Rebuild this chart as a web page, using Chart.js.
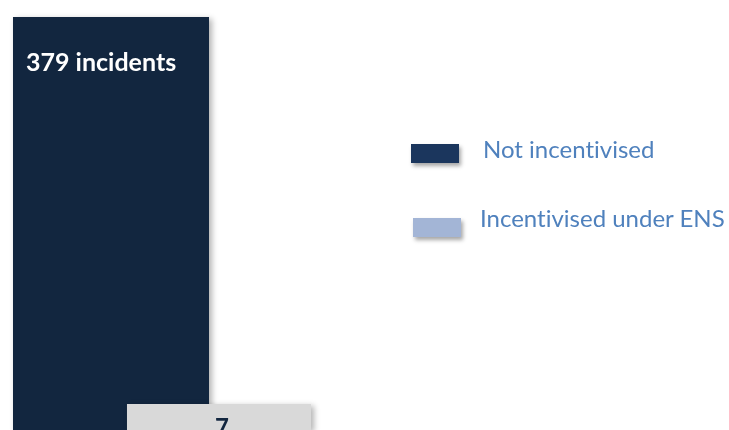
<!DOCTYPE html>
<html>
  <head>
    <title>Incidents</title>
    <script src="https://cdn.jsdelivr.net/npm/chart.js@4"></script>
    <style>
      html, body { margin: 0; padding: 0; background: #fff; }
      #wrap { position: relative; width: 729px; height: 430px; overflow: hidden; }
      .key { position: absolute; font-family: Lato, "Open Sans", sans-serif; font-size: 24px; color: #4f81bd; white-space: nowrap; font-variant-ligatures: none; }
      .swatch { position: absolute; width: 48px; height: 19px; box-shadow: 2px 3px 4px rgba(0,0,0,0.35); }
    </style>
  </head>
  <body>
    <div id="wrap">
      <canvas id="canvas" width="729" height="430"></canvas>
      <div class="swatch" style="left:411px;top:144px;background:#1b365d"></div>
      <div class="key" style="left:483px;top:134px">Not incentivised</div>
      <div class="swatch" style="left:413px;top:218px;background:#a3b5d6"></div>
      <div class="key" style="left:480px;top:203px">Incentivised under ENS</div>
    </div>
    <script>
      const categories = ['Not incentivised', 'Incentivised under ENS'];
      const notIncentivised = [379, null];
      const incentivised = [null, 7];

      // soft drop shadow behind the bars
      const shadowPlugin = {
        id: 'barShadow',
        beforeDatasetsDraw(chart) {
          const ctx = chart.ctx;
          ctx.save();
          ctx.shadowColor = 'rgba(0,0,0,0.3)';
          ctx.shadowBlur = 6;
          ctx.shadowOffsetX = 3;
          ctx.shadowOffsetY = 2;
        },
        afterDatasetsDraw(chart) {
          chart.ctx.restore();
        }
      };

      // value labels inside the bars
      const labelPlugin = {
        id: 'barLabels',
        afterDatasetsDraw(chart) {
          const ctx = chart.ctx;
          ctx.save();
          ctx.textBaseline = 'alphabetic';
          chart.data.datasets.forEach((ds, i) => {
            const meta = chart.getDatasetMeta(i);
            meta.data.forEach((bar, j) => {
              const v = ds.data[j];
              if (v == null) return;
              if (ds.labelStyle === 'inside-top') {
                ctx.font = 'bold 25px Lato, "Open Sans", sans-serif';
                ctx.fillStyle = '#ffffff';
                ctx.textAlign = 'left';
                ctx.fillText(v + ' incidents', bar.x - bar.width / 2 + 13, bar.y + 54);
              } else {
                ctx.font = 'bold 24px Lato, "Open Sans", sans-serif';
                ctx.fillStyle = '#12263f';
                ctx.textAlign = 'center';
                ctx.fillText(String(v), bar.x + 3, bar.y + 32);
              }
            });
          });
          ctx.restore();
        }
      };

      window.onload = () => {
        const ctx = document.getElementById('canvas').getContext('2d');
        new Chart(ctx, {
          type: 'bar',
          data: {
            labels: categories,
            datasets: [
              {
                label: 'Incentivised under ENS',
                data: incentivised,
                backgroundColor: '#d9d9d9',
                barPercentage: 1.704,
                categoryPercentage: 1,
                minBarLength: 26,
                clip: false,
                order: 0
              },
              {
                label: 'Not incentivised',
                data: notIncentivised,
                backgroundColor: '#12263f',
                barPercentage: 1.815,
                categoryPercentage: 1,
                labelStyle: 'inside-top',
                clip: false,
                order: 1
              }
            ]
          },
          options: {
            responsive: false,
            animation: false,
            grouped: false,
            layout: { padding: { left: 57, right: 456, top: 17, bottom: 0 } },
            plugins: { legend: { display: false }, tooltip: { enabled: false } },
            scales: {
              x: { display: false },
              y: { display: false, min: 0, max: 379 }
            }
          },
          plugins: [shadowPlugin, labelPlugin]
        });
      };
    </script>
  </body>
</html>
